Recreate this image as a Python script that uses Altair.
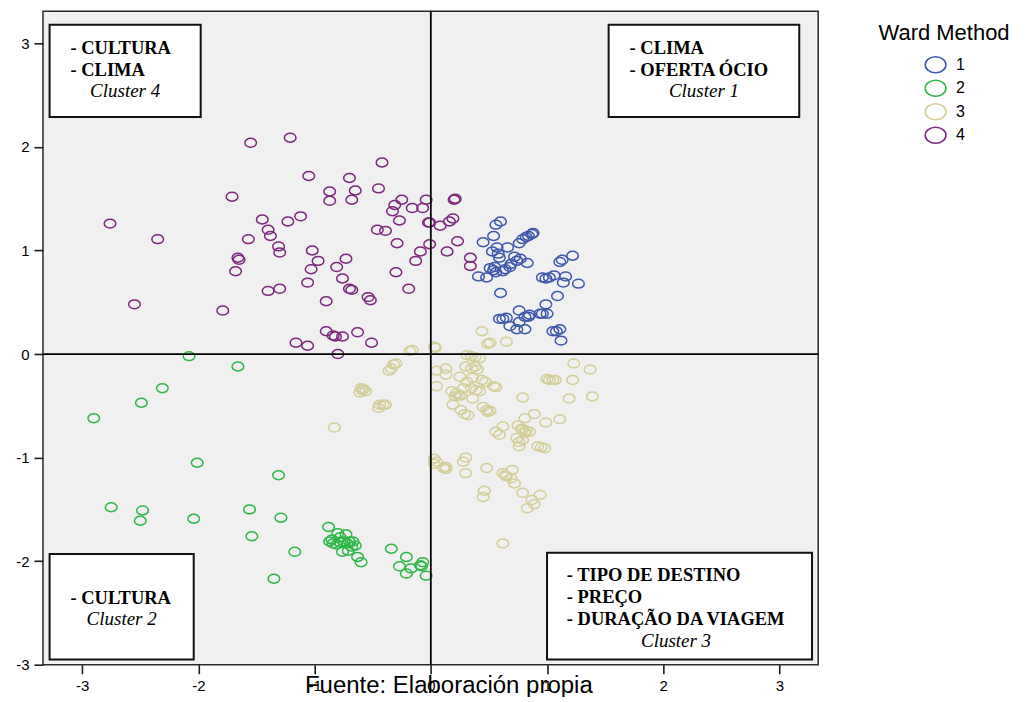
import altair as alt
import pandas as pd

# ---------------- data ----------------
# Ward Method cluster 1 (blue)
c1_x = [0.56, 0.60, 0.54, 0.45, 0.57, 0.53, 0.58, 0.59, 0.66, 0.76, 0.79, 0.82, 0.84, 0.87, 0.88,
        0.72, 0.74, 0.69, 0.68, 0.64, 0.83, 0.77, 0.51, 0.54, 0.56, 0.55, 0.62, 0.41, 0.48, 0.60,
        1.11, 1.13, 1.22, 0.96, 0.99, 1.02, 1.06, 1.16, 1.14, 1.27, 1.09, 0.99, 0.59, 0.62, 0.65,
        0.68, 0.76, 0.81, 0.76, 0.74, 0.81, 0.84, 0.85, 0.94, 0.96, 1.00, 1.05, 1.08, 1.11, 1.12]
c1_y = [1.25, 1.28, 1.14, 1.08, 1.03, 0.99, 0.97, 0.93, 1.03, 1.07, 1.11, 1.13, 1.14, 1.16, 1.17,
        0.94, 0.90, 0.87, 0.84, 0.82, 0.88, 0.92, 0.83, 0.81, 0.79, 0.84, 0.80, 0.75, 0.74, 0.59,
        0.89, 0.91, 0.95, 0.74, 0.73, 0.74, 0.76, 0.75, 0.69, 0.68, 0.56, 0.48, 0.34, 0.34, 0.35,
        0.27, 0.42, 0.36, 0.31, 0.24, 0.24, 0.36, 0.38, 0.39, 0.39, 0.39, 0.22, 0.22, 0.24, 0.13]

# Ward Method cluster 2 (green)
c2_x = [-2.08, -1.66, -2.31, -2.49, -2.90, -2.01, -1.31, -2.75, -2.48, -2.50, -2.04, -1.56, -1.29,
        -1.54, -1.17, -1.35, -0.88, -0.85, -0.80, -0.73, -0.84, -0.81, -0.78, -0.75, -0.72, -0.70,
        -0.67, -0.68, -0.65, -0.76, -0.71, -0.63, -0.60, -0.87, -0.78, -0.34, -0.21, -0.27, -0.21,
        -0.17, -0.09, -0.07, -0.08, -0.04]
c2_y = [-0.02, -0.12, -0.33, -0.47, -0.62, -1.05, -1.17, -1.48, -1.51, -1.61, -1.59, -1.50, -1.58,
        -1.76, -1.91, -2.17, -1.67, -1.79, -1.73, -1.74, -1.83, -1.84, -1.82, -1.81, -1.83, -1.81,
        -1.81, -1.86, -1.85, -1.91, -1.90, -1.96, -2.01, -1.81, -1.77, -1.88, -1.96, -2.05, -2.12,
        -2.07, -2.04, -2.01, -2.05, -2.14]

# Ward Method cluster 3 (tan)
c3_x = [-0.18, -0.16, 0.03, 0.04, 0.44, 0.49, 0.51, 0.65,
        -0.32, -0.30, -0.36, -0.34, -0.60, -0.59, -0.61, -0.56, -0.58,
        -0.44, -0.41, -0.39, -0.45, -0.83,
        0.05, 0.13, 0.13, 0.05, 0.31, 0.35, 0.38, 0.42, 0.30, 0.38, 0.35, 0.40,
        0.25, 0.31, 0.36, 0.44, 0.47, 0.54, 0.56,
        0.18, 0.22, 0.26, 0.21, 0.24, 0.28, 0.35, 0.39, 0.42, 0.36,
        0.19, 0.26, 0.29, 0.32, 0.45, 0.48, 0.49, 0.51, 0.56, 0.59, 0.62,
        1.23, 1.37, 1.00, 1.02, 1.05, 1.07, 1.22, 0.79, 1.19, 1.39,
        0.81, 0.89, 0.99, 1.11, 0.75, 0.78, 0.79, 0.82, 0.85, 0.81,
        0.74, 0.76, 0.76, 0.79, 0.92, 0.95, 0.98,
        0.03, 0.05, 0.03, 0.11, 0.13, 0.13, 0.30, 0.28, 0.30, 0.48,
        0.62, 0.65, 0.64, 0.70, 0.69, 0.72, 0.46, 0.45,
        0.79, 0.87, 0.89, 0.94, 0.83, 0.62]
c3_y = [0.03, 0.04, 0.07, 0.06, 0.22, 0.10, 0.11, 0.12,
        -0.10, -0.09, -0.16, -0.14, -0.33, -0.35, -0.37, -0.36, -0.34,
        -0.49, -0.49, -0.49, -0.52, -0.71,
        -0.16, -0.14, -0.20, -0.31, -0.01, -0.02, -0.03, -0.04, -0.12, -0.12, -0.14, -0.15,
        -0.22, -0.27, -0.23, -0.25, -0.27, -0.31, -0.32,
        -0.36, -0.38, -0.40, -0.41, -0.40, -0.33, -0.33, -0.35, -0.36, -0.43,
        -0.49, -0.54, -0.58, -0.59, -0.51, -0.54, -0.56, -0.55, -0.75, -0.78, -0.70,
        -0.09, -0.15, -0.24, -0.25, -0.25, -0.25, -0.25, -0.42, -0.43, -0.41,
        -0.62, -0.58, -0.66, -0.63, -0.69, -0.72, -0.73, -0.74, -0.75, -0.76,
        -0.81, -0.85, -0.89, -0.83, -0.89, -0.90, -0.91,
        -1.01, -1.04, -1.06, -1.10, -1.11, -1.09, -1.00, -1.04, -1.15, -1.10,
        -1.15, -1.18, -1.17, -1.12, -1.20, -1.25, -1.32, -1.38,
        -1.34, -1.41, -1.45, -1.36, -1.49, -1.83]

# Ward Method cluster 4 (purple)
c4_x = [-2.76, -2.35, -2.55, -1.79, -1.55, -1.21, -1.71, -1.45, -1.57, -1.40, -1.38, -1.31, -1.30,
        -1.66, -1.65, -1.68, -1.23, -1.12, -1.05, -0.87, -0.87, -0.70, -0.65, -0.68, -0.42, -0.45,
        -0.33, -0.31, -0.25, -0.16, -0.07, -0.04, -0.27, -0.02, -0.01, 0.08, -0.46, -0.39, -0.29,
        -0.01, -0.09, -0.13, -0.30, -0.19, -1.02, -0.97, -1.03, -1.06, -0.73, -0.81, -0.76, -0.70,
        -0.68, -1.40, -1.30, -0.90, -0.54, -0.52, -0.90, -0.84, -0.82, -0.76, -0.63, -0.51, -1.16,
        -1.06, -0.80, 0.16, 0.19, 0.20, 0.21, 0.23, 0.14, 0.34, 0.34]
c4_y = [1.26, 1.11, 0.48, 0.42, 2.04, 2.09, 1.52, 1.30, 1.11, 1.20, 1.14, 1.04, 0.98,
        0.93, 0.91, 0.80, 1.28, 1.33, 1.72, 1.57, 1.48, 1.70, 1.58, 1.49, 1.85, 1.60,
        1.38, 1.44, 1.49, 1.41, 1.41, 1.49, 1.29, 1.27, 1.27, 1.24, 1.20, 1.19, 1.07,
        1.06, 0.99, 0.90, 0.79, 0.63, 1.00, 0.90, 0.82, 0.69, 0.92, 0.84, 0.73, 0.63,
        0.62, 0.61, 0.63, 0.51, 0.55, 0.52, 0.22, 0.18, 0.17, 0.17, 0.21, 0.11, 0.11,
        0.08, 0.00, 1.28, 1.31, 1.49, 1.50, 1.09, 0.99, 0.93, 0.85]

clusters = ["1", "2", "3", "4"]
colors = ["#3E58AC", "#2EB848", "#D3CE97", "#7C287D"]

x_ticks = [-3, -2, -1, 0, 1, 2, 3]
y_ticks = [-3, -2, -1, 0, 1, 2, 3]

# annotation boxes (data units)
box_x1 = [-3.28, 1.53, -3.28, 1.00]
box_x2 = [-1.98, 3.17, -2.04, 3.28]
box_y1 = [3.18, 3.18, -1.93, -1.92]
box_y2 = [2.29, 2.29, -2.95, -2.95]

bold_text = ["- CULTURA", "- CLIMA", "- CLIMA", "- OFERTA ÓCIO", "- CULTURA",
             "- TIPO DE DESTINO", "- PREÇO", "- DURAÇÃO DA VIAGEM"]
bold_x = [-3.10, -3.10, 1.71, 1.71, -3.10, 1.17, 1.17, 1.17]
bold_y = [2.90, 2.69, 2.90, 2.69, -2.41, -2.19, -2.40, -2.62]

cl_text = ["Cluster 4", "Cluster 1", "Cluster 2", "Cluster 3"]
cl_x = [-2.63, 2.35, -2.66, 2.11]
cl_y = [2.48, 2.48, -2.62, -2.83]

foot_text = ["Fuente: Elaboración propia"]
foot_x = [0.155]
foot_y = [-3.27]

# ---------------- tables ----------------
rows = []
for lab, xs, ys in zip(clusters, [c1_x, c2_x, c3_x, c4_x], [c1_y, c2_y, c3_y, c4_y]):
    for a, b in zip(xs, ys):
        rows.append({"x": a, "y": b, "cluster": lab})
pts = pd.DataFrame(rows)
boxes = pd.DataFrame({"x1": box_x1, "x2": box_x2, "y1": box_y1, "y2": box_y2})
bold_df = pd.DataFrame({"t": bold_text, "x": bold_x, "y": bold_y})
cl_df = pd.DataFrame({"t": cl_text, "x": cl_x, "y": cl_y})
foot_df = pd.DataFrame({"t": foot_text, "x": foot_x, "y": foot_y})

ELLIPSE = "M-1,0A1,0.77,0,0,1,1,0A1,0.77,0,0,1,-1,0Z"

xscale = alt.Scale(domain=[-3.337, 3.333], nice=False, zero=False)
yscale = alt.Scale(domain=[-3.0, 3.31], nice=False, zero=False)

xaxis = alt.Axis(values=x_ticks, labelExpr="'' + datum.value", title=None, grid=False,
                 domain=False, tickSize=9, tickWidth=1.6, tickColor="#1a1a1a",
                 labelFont="Liberation Sans", labelFontSize=15, labelColor="black",
                 labelPadding=5)
yaxis = alt.Axis(values=y_ticks, labelExpr="'' + datum.value", title=None, grid=False,
                 domain=False, tickSize=9, tickWidth=1.6, tickColor="#1a1a1a",
                 labelFont="Liberation Sans", labelFontSize=15, labelColor="black",
                 labelPadding=5)

points = alt.Chart(pts).mark_point(
    filled=False, shape=ELLIPSE, size=135, strokeWidth=1.5, opacity=1
).encode(
    x=alt.X("x:Q", scale=xscale, axis=xaxis),
    y=alt.Y("y:Q", scale=yscale, axis=yaxis),
    color=alt.Color("cluster:N", scale=alt.Scale(domain=clusters, range=colors),
                    legend=alt.Legend(title="Ward Method", orient="right", offset=48,
                                      padding=12,
                                      titleAnchor="middle", titleFont="Liberation Sans",
                                      titleFontSize=22, titleFontWeight="normal",
                                      titleColor="black", titlePadding=8,
                                      labelFont="Liberation Sans", labelFontSize=16,
                                      labelColor="black", labelOffset=9,
                                      symbolType=ELLIPSE, symbolSize=430,
                                      symbolStrokeWidth=1.6, symbolFillColor="transparent",
                                      rowPadding=0.5)),
)

vline = alt.Chart(pd.DataFrame({"x": [0]})).mark_rule(color="black", strokeWidth=1.8).encode(
    x=alt.X("x:Q", scale=xscale))
hline = alt.Chart(pd.DataFrame({"y": [0]})).mark_rule(color="black", strokeWidth=1.8).encode(
    y=alt.Y("y:Q", scale=yscale))

box_layer = alt.Chart(boxes).mark_rect(fill="white", stroke="#111111", strokeWidth=2).encode(
    x=alt.X("x1:Q", scale=xscale), x2="x2:Q",
    y=alt.Y("y1:Q", scale=yscale), y2="y2:Q")

bold_layer = alt.Chart(bold_df).mark_text(
    font="Liberation Serif", fontWeight="bold", fontSize=18.5, align="left",
    baseline="alphabetic", color="black"
).encode(x=alt.X("x:Q", scale=xscale), y=alt.Y("y:Q", scale=yscale), text="t:N")

cl_layer = alt.Chart(cl_df).mark_text(
    font="Liberation Serif", fontStyle="italic", fontSize=19, align="center",
    baseline="alphabetic", color="black"
).encode(x=alt.X("x:Q", scale=xscale), y=alt.Y("y:Q", scale=yscale), text="t:N")

foot_layer = alt.Chart(foot_df).mark_text(
    font="Liberation Sans", fontSize=24, align="center", baseline="alphabetic", color="black"
).encode(x=alt.X("x:Q", scale=xscale), y=alt.Y("y:Q", scale=yscale), text="t:N")

chart = alt.layer(points, vline, hline, box_layer, bold_layer, cl_layer, foot_layer).properties(
    width=776, height=654,
    autosize=alt.AutoSizeParams(type="none"),
    padding={"left": 35, "top": 3, "right": 200, "bottom": 32},
).configure_view(
    fill="#F0F0F0", stroke="#2a2a2a", strokeWidth=1.5
)

chart.save("out.html", embed_options={"renderer": "svg", "actions": False})
